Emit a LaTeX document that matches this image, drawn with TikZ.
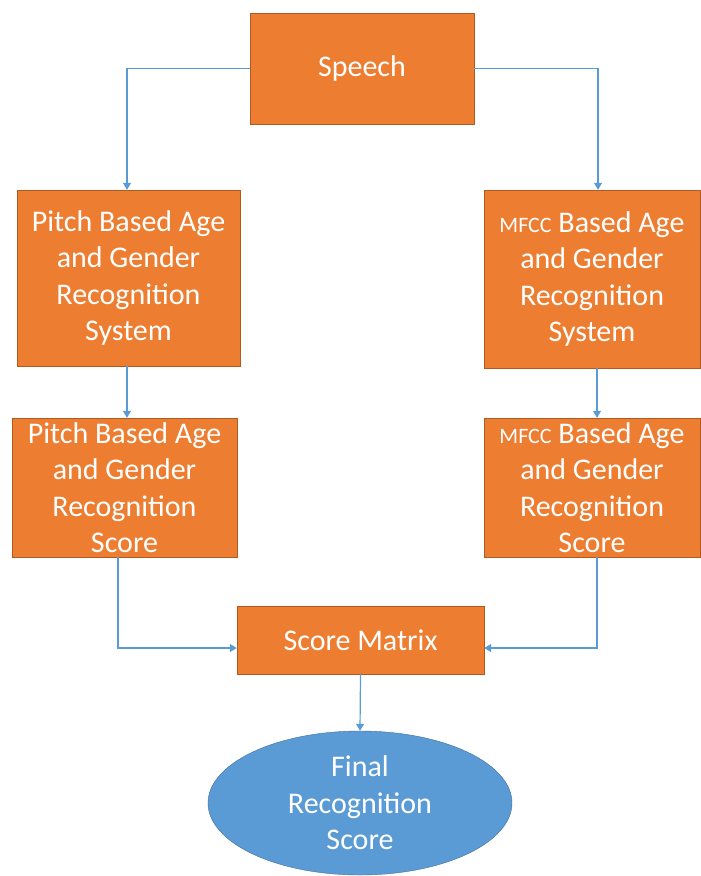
\documentclass[tikz,border=0pt]{standalone}
\usepackage{fontspec}
\setmainfont{Carlito}
\usetikzlibrary{arrows.meta,shapes.geometric}
\definecolor{boxorange}{HTML}{ED7D31}
\definecolor{boxedge}{HTML}{AE5A21}
\definecolor{ovalblue}{HTML}{5B9BD5}
\definecolor{ovaledge}{HTML}{41719C}
\tikzset{
  block/.style={draw=boxedge, fill=boxorange, text=white, align=center,
    inner sep=0pt, font=\fontsize{30}{36.5}\selectfont},
  oval/.style={ellipse, draw=ovaledge, fill=ovalblue, text=white, align=center,
    inner sep=0pt, font=\fontsize{30}{36.5}\selectfont},
  link/.style={draw=ovalblue, line width=1.2pt, -{Triangle[width=8pt,length=7pt]}}
}
\newcommand{\mfcc}{{\fontsize{22}{36}\selectfont MFCC}}
\begin{document}
\begin{tikzpicture}[x=1pt,y=-1pt]
  \useasboundingbox (0,0) rectangle (701,876);

  % boxes
  \node[block, minimum width=224pt, minimum height=111pt] (speech) at (362,68.5) {Speech};
  \node[block, minimum width=223pt, minimum height=176pt] (pitchsys) at (128.5,278)
    {Pitch Based Age\\and Gender\\Recognition\\System};
  \node[block, minimum width=216pt, minimum height=178pt] (mfccsys) at (592,279)
    {\mfcc{} Based Age\\and Gender\\Recognition\\System};
  \node[block, minimum width=225pt, minimum height=139pt] (pitchscore) at (124.5,487.5)
    {Pitch Based Age\\and Gender\\Recognition\\Score};
  \node[block, minimum width=216pt, minimum height=139pt] (mfccscore) at (592,487.5)
    {\mfcc{} Based Age\\and Gender\\Recognition\\Score};
  \node[block, minimum width=247pt, minimum height=68pt] (matrix) at (360.5,640) {Score Matrix};
  \node[oval, minimum width=304pt, minimum height=144pt] (final) at (360,803)
    {Final\\Recognition\\Score};

  % connectors
  \draw[link] (speech.west) -| ([xshift=-1.5pt]pitchsys.north);
  \draw[link] (speech.east) -| ([xshift=6pt]mfccsys.north);
  \draw[link] ([xshift=-1.5pt]pitchsys.south) -- ([xshift=2.5pt]pitchscore.north);
  \draw[link] ([xshift=5pt]mfccsys.south) -- ([xshift=5pt]mfccscore.north);
  \draw[link] ([xshift=-6.5pt]pitchscore.south) |- ([yshift=-8pt]matrix.west);
  \draw[link] ([xshift=5pt]mfccscore.south) |- ([yshift=-8pt]matrix.east);
  \draw[link] (matrix.south) -- (final.north);
\end{tikzpicture}
\end{document}
